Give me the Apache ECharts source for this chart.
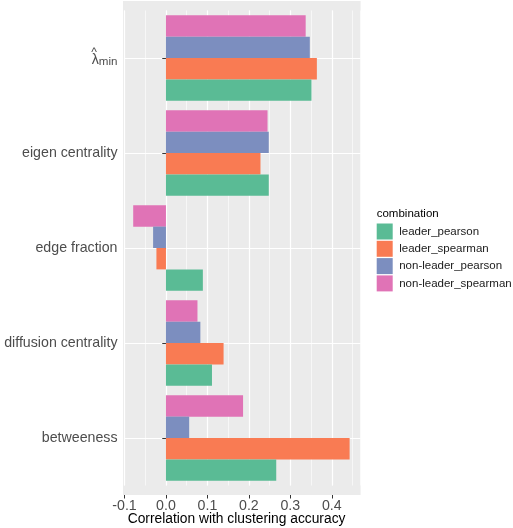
<!DOCTYPE html>
<html>
<head>
<meta charset="utf-8">
<script src="https://cdn.jsdelivr.net/npm/echarts@6/dist/echarts.min.js"></script>
<style>
  html, body { margin: 0; padding: 0; background: #ffffff; }
  #chart { width: 513px; height: 528px; }
</style>
</head>
<body>
<div id="chart"></div>
<script>
// Measures, listed bottom-to-top as they appear on the category axis
const measures = ['betweeness', 'diffusion centrality', 'edge fraction', 'eigen centrality', 'lambda_min'];

// Correlation of each measure with clustering accuracy
const leaderPearson     = [0.266, 0.111,  0.089, 0.248, 0.351];
const leaderSpearman    = [0.443, 0.139, -0.023, 0.228, 0.364];
const nonLeaderPearson  = [0.056, 0.083, -0.031, 0.248, 0.347];
const nonLeaderSpearman = [0.186, 0.076, -0.079, 0.245, 0.337];

const combinations = ['leader_pearson', 'leader_spearman', 'non-leader_pearson', 'non-leader_spearman'];
const xTickValues = [-0.1, 0.0, 0.1, 0.2, 0.3, 0.4];

const colors = {
  'leader_pearson': '#5abb95',
  'leader_spearman': '#f97b53',
  'non-leader_pearson': '#7c8ebf',
  'non-leader_spearman': '#e073b6'
};

const FONT = '"Liberation Sans", Arial, Helvetica, sans-serif';

// Panel rectangle in pixels (panel is a little wider than the plotted grid)
const panel = { x0: 123, y0: 1, x1: 360.6, y1: 495 };

const chart = echarts.init(document.getElementById('chart'), null, { renderer: 'canvas' });

// Within each group the top bar is the first series
const seriesOrder = [
  ['non-leader_spearman', nonLeaderSpearman],
  ['non-leader_pearson', nonLeaderPearson],
  ['leader_spearman', leaderSpearman],
  ['leader_pearson', leaderPearson]
];

chart.setOption({
  animation: false,
  backgroundColor: '#ffffff',
  textStyle: { fontFamily: FONT },
  graphic: [{
    type: 'rect',
    z: -10,
    silent: true,
    shape: { x: panel.x0, y: panel.y0, width: panel.x1 - panel.x0, height: panel.y1 - panel.y0 },
    style: { fill: '#ebebeb' }
  }],
  title: {
    text: 'combination',
    left: 376.7,
    top: 208,
    padding: 0,
    textStyle: { fontFamily: FONT, fontSize: 11.5, fontWeight: 'normal', color: '#000000' }
  },
  legend: {
    orient: 'vertical',
    left: 376.7,
    top: 223.5,
    padding: 0,
    itemWidth: 16,
    itemHeight: 16,
    itemGap: 1.3,
    icon: 'rect',
    data: combinations,
    textStyle: { fontFamily: FONT, fontSize: 11.5, color: '#1a1a1a', padding: [0, 0, 0, 1.5] }
  },
  grid: {
    left: 124.5,
    right: 513 - panel.x1,
    top: 10.5,
    bottom: 528 - 485.5,
    containLabel: false,
    outerBoundsMode: 'none'
  },
  xAxis: [{
    type: 'value',
    min: -0.1,
    max: 0.4695,
    interval: 0.1,
    offset: 9.5,
    name: 'Correlation with clustering accuracy',
    nameLocation: 'middle',
    nameGap: 17.5,
    nameMoveOverlap: false,
    nameTextStyle: { fontFamily: FONT, fontSize: 13.8, color: '#000000', padding: [0, 12, 0, 0] },
    axisLine: { show: false },
    axisTick: { show: true, length: 3.5, customValues: xTickValues, lineStyle: { color: '#333333', width: 1 } },
    axisLabel: {
      customValues: xTickValues,
      margin: 4.5,
      fontFamily: FONT,
      fontSize: 14.2,
      color: '#4d4d4d',
      formatter: v => v.toFixed(1)
    },
    splitLine: { show: true, lineStyle: { color: '#ffffff', width: 1.2 } }
  }, {
    // Minor grid lines halfway between the labelled ticks
    type: 'value',
    min: -0.1,
    max: 0.4695,
    interval: 0.05,
    position: 'bottom',
    axisLine: { show: false },
    axisTick: { show: false },
    axisLabel: { show: false },
    splitLine: { show: true, lineStyle: { color: '#ffffff', width: 0.6 } }
  }],
  yAxis: {
    type: 'category',
    data: measures,
    offset: 1.5,
    axisLine: { show: false },
    axisTick: { show: true, alignWithLabel: true, length: 3.7, lineStyle: { color: '#333333', width: 1 } },
    axisLabel: {
      margin: 5.5,
      fontFamily: FONT,
      fontSize: 14.2,
      color: '#4d4d4d',
      // lambda-hat with a "min" subscript: hat on its own short line above the lambda
      formatter: v => v === 'lambda_min' ? '{h|^}\n{l|\u03bb}{s|min}' : v,
      rich: {
        h: { fontFamily: FONT, fontSize: 12, color: '#4d4d4d', lineHeight: 5, align: 'right', padding: [4, 20.7, 0, 0] },
        l: { fontFamily: FONT, fontSize: 14.2, color: '#4d4d4d', lineHeight: 14 },
        s: { fontFamily: FONT, fontSize: 11.6, color: '#4d4d4d', padding: [3, 0, 0, 0] }
      }
    },
    splitLine: { show: true, alignWithLabel: true, lineStyle: { color: '#ffffff', width: 1.2 } }
  },
  series: seriesOrder.map(([name, values]) => ({
    name: name,
    type: 'bar',
    xAxisIndex: 0,
    data: values,
    barGap: '0%',
    barCategoryGap: '10%',
    itemStyle: { color: colors[name] },
    emphasis: { disabled: true }
  }))
});
</script>
</body>
</html>
